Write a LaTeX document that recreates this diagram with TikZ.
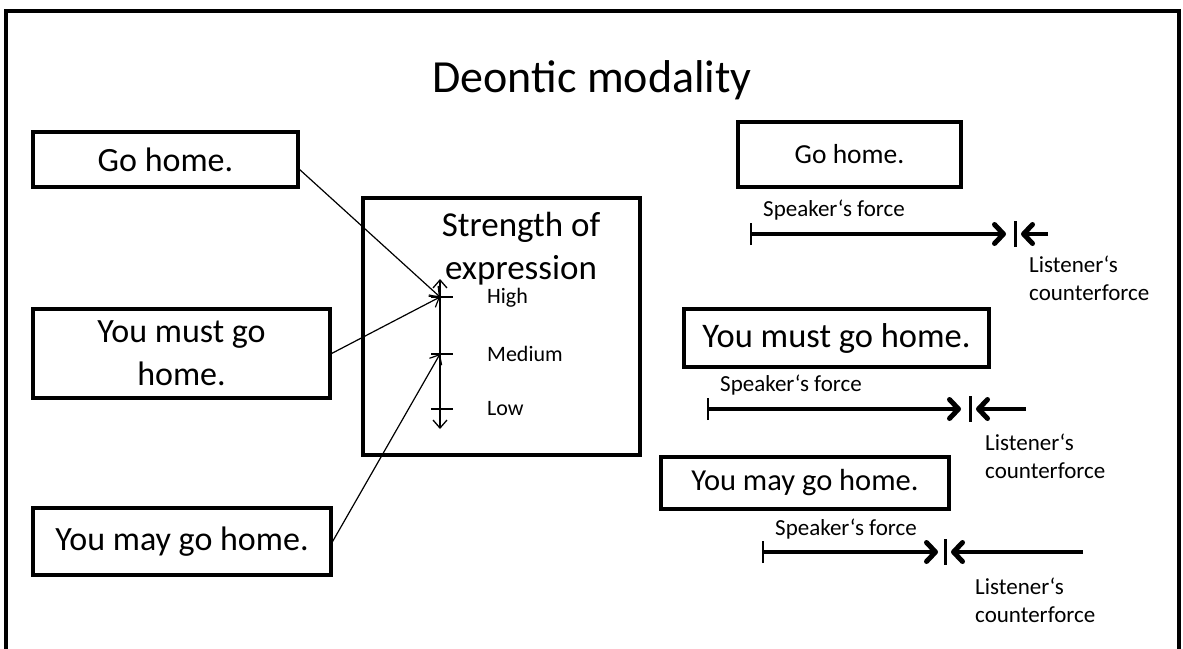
\documentclass[tikz,border=0pt]{standalone}
\usepackage{fontspec}
\setmainfont{Carlito}
\usetikzlibrary{arrows.meta}
\tikzset{
  push/.style = {line width = 3.5pt, {Bar[width = 22pt, line width = 1.6pt]}-{Straight Barb[length = 9pt, width = 19pt, line width = 5pt, round]}},
  counter/.style = {line width = 3.5pt, -{Straight Barb[length = 9pt, width = 19pt, line width = 5pt, round]}},
  pin/.style = {line width = 1.2pt, -{Straight Barb[length = 8pt, width = 14pt]}}
}

\begin{document}
\begin{tikzpicture}[x = 1pt, y = -1pt]
  \useasboundingbox (0,0) rectangle (1183,648);
  \draw[line width = 3.5pt] (6,700) -- (6,11) -- (1179,11) -- (1179,700);
  \node (title) at (592,80) {\fontsize{46}{50}\selectfont Deontic modality};

  % sentences on the left and the scale
  \begin{scope}[nodes = {draw, line width = 3.2pt, inner sep = 0pt, align = center}, font = \fontsize{34}{43}\selectfont]
    \node[minimum width = 265pt, minimum height = 55pt] (go) at (165.5,159.5) {Go home.};
    \node[minimum width = 297pt, minimum height = 89pt] (must) at (181.5,353.5) {You must go\\home.};
    \node[minimum width = 298pt, minimum height = 67pt] (may) at (182,541.5) {You may go home.};
    \node[minimum width = 277pt, minimum height = 257pt] (scale) at (501.5,326.5) {};
  \end{scope}
  \node[align = center, font = \fontsize{35}{43}\selectfont] (strength) at (521,249) {Strength of\\expression};

  \coordinate (top) at (440,279);
  \coordinate (bottom) at (440,429);
  \coordinate (h) at (440,297);
  \coordinate (m) at (440,354);
  \coordinate (l) at (440,409);
  \draw[line width = 1.3pt, {Straight Barb[length = 8pt, width = 14pt]}-{Straight Barb[length = 8pt, width = 14pt]}] (top) -- (bottom);
  \draw[line width = 1.3pt] ([xshift = -9pt]h) -- ([xshift = 13pt]h);
  \draw[line width = 1.3pt] ([xshift = -9pt]m) -- ([xshift = 13pt]m);
  \draw[line width = 1.3pt] ([xshift = -9pt]l) -- ([xshift = 13pt]l);
  \begin{scope}[nodes = {anchor = west, inner sep = 0pt}, font = \fontsize{22}{26}\selectfont]
    \node (high) at (487,298) {High};
    \node (medium) at (487,354) {Medium};
    \node (low) at (487,409) {Low};
  \end{scope}

  \draw[pin] ([yshift = -10pt]go.east) -- (h);
  \draw[pin] (must.east) -- (h);
  \draw[pin] (may.east) -- (m);

  % sentences on the right
  \begin{scope}[nodes = {draw, line width = 3.2pt, inner sep = 0pt}]
    \node[minimum width = 223pt, minimum height = 65pt, font = \fontsize{27.5}{33}\selectfont] (go2) at (849.5,154.5) {Go home.};
    \node[minimum width = 305pt, minimum height = 58pt, font = \fontsize{34.5}{41}\selectfont] (must2) at (836.5,338) {You must go home.};
    \node[minimum width = 288pt, minimum height = 52pt, font = \fontsize{30.5}{36}\selectfont] (may2) at (805,483) {You may go home.};
  \end{scope}

  \coordinate (s1) at (750,234);
  \coordinate (t1) at (1006,234);
  \coordinate (b1) at (1015,234);
  \coordinate (c1) at (1048,234);
  \coordinate (s2) at (707,409);
  \coordinate (t2) at (961,409);
  \coordinate (b2) at (970,409);
  \coordinate (c2) at (1026,409);
  \coordinate (s3) at (762,552);
  \coordinate (t3) at (938,552);
  \coordinate (b3) at (945,552);
  \coordinate (c3) at (1083,552);

  \draw[push] (s1) -- (t1);
  \draw[push] (s2) -- (t2);
  \draw[push] (s3) -- (t3);
  \draw[counter] (c1) -- ([xshift = 6pt]b1);
  \draw[counter] (c2) -- ([xshift = 6pt]b2);
  \draw[counter] (c3) -- ([xshift = 6pt]b3);
  \begin{scope}[line width = 3pt]
    \draw ([yshift = 13pt]b1) -- ([yshift = -13pt]b1);
    \draw ([yshift = 13pt]b2) -- ([yshift = -13pt]b2);
    \draw ([yshift = 13pt]b3) -- ([yshift = -13pt]b3);
  \end{scope}

  \begin{scope}[nodes = {anchor = west, inner sep = 0pt, align = left}, font = \fontsize{23}{28}\selectfont]
    \node (sp1) at (763,210) {Speaker‘s force};
    \node (sp2) at (720,385) {Speaker‘s force};
    \node (sp3) at (775,529) {Speaker‘s force};
    \node (li1) at (1029,278) {Listener‘s\\counterforce};
    \node (li2) at (985,456) {Listener‘s\\counterforce};
    \node (li3) at (975,600) {Listener‘s\\counterforce};
  \end{scope}
\end{tikzpicture}
\end{document}
